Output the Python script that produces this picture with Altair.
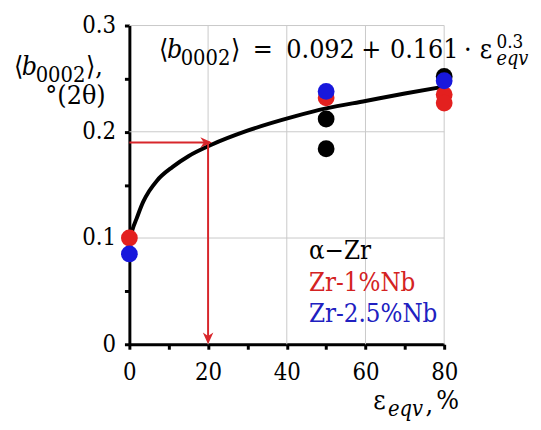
import altair as alt
import pandas as pd

# ---------------- data ----------------
alpha_x = [50, 50, 80]
alpha_y = [0.212, 0.184, 0.252]
nb1_x = [0, 50, 80, 80]
nb1_y = [0.100, 0.232, 0.235, 0.227]
nb25_x = [0, 50, 80]
nb25_y = [0.085, 0.238, 0.248]

fit_x = [0, 0.3, 0.8, 1.8, 3.5, 5, 7, 11, 15, 21, 30, 42, 50, 60, 70, 80]
fit_y = [0.092, 0.100, 0.108, 0.118, 0.134, 0.144, 0.154, 0.167, 0.177, 0.188,
         0.201, 0.2145, 0.222, 0.229, 0.236, 0.2425]

arrow_level = 0.19
arrow_x = 20
arrow_tip_x = 21

x_ticks = [0, 10, 20, 30, 40, 50, 60, 70, 80]
y_ticks = [0, 0.05, 0.1, 0.15, 0.2, 0.25, 0.3]
x_grid = [20, 40, 60, 80]
y_grid = [0.1, 0.2, 0.3]
legend_labels = ["α−Zr", "Zr-1%Nb", "Zr-2.5%Nb"]

# ---------------- style ----------------
FONT = "DejaVu Serif Condensed, DejaVu Serif, serif"
RED = "#e3201f"
BLUE = "#1818dc"
ARROW = "#d8262b"
GRID = "#c9c9c9"
W, H = 319, 323

xs = alt.Scale(domain=[0, 80], nice=False, zero=False)
ys = alt.Scale(domain=[0, 0.3], nice=False, zero=False)

x_axis = alt.Axis(values=x_ticks, labelExpr="datum.value % 20 == 0 ? datum.label : ''",
                  grid=False, domainColor="black", domainWidth=3, tickColor="black",
                  tickWidth=3, tickSize=5, labelFont=FONT, labelFontSize=24,
                  labelColor="black", labelPadding=12, labelFlush=False,
                  labelOverlap=False, labelBound=False, title=None)
y_axis = alt.Axis(values=y_ticks,
                  labelExpr="round(datum.value*100) % 10 == 0 ? '' + datum.value : ''",
                  grid=False, domainColor="black", domainWidth=3, tickColor="black",
                  tickWidth=3, tickSize=5, labelFont=FONT, labelFontSize=24,
                  labelColor="black", labelPadding=9, labelFlush=False,
                  labelOverlap=False, labelBound=False, title=None)


def X(f="x"):
    return alt.X(f"{f}:Q", scale=xs, axis=x_axis, title=None)


def Y(f="y"):
    return alt.Y(f"{f}:Q", scale=ys, axis=y_axis, title=None)


layers = []

# grid
vg = pd.DataFrame({"x": x_grid, "y": [0] * len(x_grid), "y2": [0.3] * len(x_grid)})
layers.append(alt.Chart(vg).mark_rule(color=GRID, strokeWidth=1).encode(
    x=X(), y=Y(), y2="y2:Q"))
hg = pd.DataFrame({"y": y_grid, "x": [0] * len(y_grid), "x2": [80] * len(y_grid)})
layers.append(alt.Chart(hg).mark_rule(color=GRID, strokeWidth=1).encode(
    x=X(), x2="x2:Q", y=Y()))

# fitted curve
fit = pd.DataFrame({"x": fit_x, "y": fit_y})
layers.append(alt.Chart(fit).mark_line(color="black", strokeWidth=4,
                                       interpolate="monotone").encode(x=X(), y=Y()))

# arrows
arr = pd.DataFrame({"x": [0, arrow_x], "x2": [arrow_tip_x - 0.5, arrow_x],
                    "y": [arrow_level, arrow_level], "y2": [arrow_level, 0.003]})
layers.append(alt.Chart(arr).mark_rule(color=ARROW, strokeWidth=2).encode(
    x=X(), x2="x2:Q", y=Y(), y2="y2:Q"))
head_r = pd.DataFrame({"x": [arrow_tip_x], "y": [arrow_level]})
layers.append(alt.Chart(head_r).mark_point(
    shape="M0,0L-1,-0.45L-0.7,0L-1,0.45Z", filled=True, size=560, color=ARROW,
    opacity=1, strokeWidth=0).encode(x=X(), y=Y()))
head_d = pd.DataFrame({"x": [arrow_x], "y": [0]})
layers.append(alt.Chart(head_d).mark_point(
    shape="M0,0L-0.45,-1L0,-0.7L0.45,-1Z", filled=True, size=560, color=ARROW,
    opacity=1, strokeWidth=0).encode(x=X(), y=Y()))

# data points
for xv, yv, col in [(alpha_x, alpha_y, "black"), (nb1_x, nb1_y, RED), (nb25_x, nb25_y, BLUE)]:
    d = pd.DataFrame({"x": xv, "y": yv})
    layers.append(alt.Chart(d).mark_circle(color=col, size=290, opacity=1).encode(
        x=X(), y=Y()))


def txt(s, x, y, size=27, color="black", italic=False, align="left"):
    d = pd.DataFrame({"t": [s]})
    kw = dict(align=align, baseline="alphabetic", font=FONT, fontSize=size, color=color)
    if italic:
        kw["fontStyle"] = "italic"
    return alt.Chart(d).mark_text(**kw).encode(x=alt.value(x), y=alt.value(y), text="t:N")


# equation
layers += [
    txt("⟨", 30, 33),
    txt("b", 38, 33, italic=True),
    txt("0002", 52, 40, size=22),
    txt("⟩", 103, 33),
    txt("=", 125, 33),
    txt("0.092", 159, 33),
    txt("+", 235, 33),
    txt("0.161", 264, 33),
    txt("·", 339, 33),
    txt("ε", 355, 33),
    txt("0.3", 372, 23, size=19),
    txt("eqv", 372, 40, size=20, italic=True),
]

# y title
layers += [
    txt("⟨", -117, 50),
    txt("b", -109, 50, italic=True),
    txt("0002", -95, 57, size=22),
    txt("⟩,", -44, 50),
    txt("°(2θ)", -24, 80, align="right"),
]

# x title
layers += [
    txt("ε", 247, 389),
    txt("eqv", 262, 396, size=22, italic=True),
    txt(",", 300, 393),
    txt("%", 311, 389),
]

# legend
for lab, col, yy in zip(legend_labels, ["black", "#d42222", "#2020c0"], [237, 269, 300]):
    layers.append(txt(lab, 182, yy, size=26, color=col))

chart = alt.layer(*layers).properties(
    width=W, height=H,
    autosize=alt.AutoSizeParams(type="none"),
    padding={"left": 123, "top": 15, "right": 90, "bottom": 76},
).configure_view(stroke=None)

chart.save("out.html", embed_options={"renderer": "svg", "actions": False})
